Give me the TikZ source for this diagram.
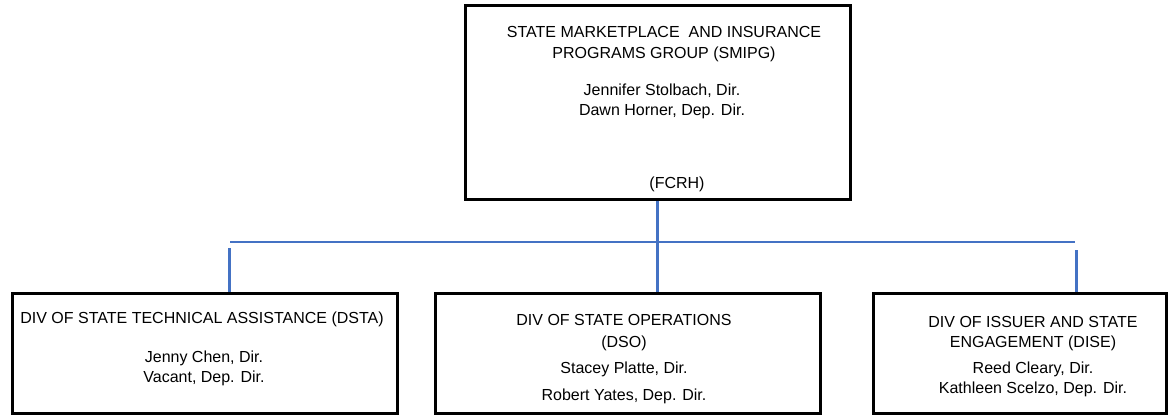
\documentclass[tikz,border=0pt]{standalone}
\usepackage{fontspec}
\setmainfont{Liberation Sans}
\definecolor{linkblue}{HTML}{4472C4}
\begin{document}
\begin{tikzpicture}[x=0.75pt,y=-0.75pt,
  orgbox/.style={draw=black,line width=2.25pt,rectangle,inner sep=0pt},
  txt/.style={anchor=north,inner sep=0pt,align=center,font=\fontsize{12}{15}\selectfont},
  link/.style={draw=linkblue,line width=2.25pt},
  hlink/.style={draw=linkblue,line width=1.6pt}]
\useasboundingbox (0,0) rectangle (1169,414);
% boxes
\node[orgbox,minimum width=288.75pt,minimum height=145.5pt] (smipg) at (657.5,102) {};
\node[orgbox,minimum width=288.75pt,minimum height=90pt] (dsta) at (204.5,353) {};
\node[orgbox,minimum width=288.75pt,minimum height=90pt] (dso) at (627.5,353) {};
\node[orgbox,minimum width=219.75pt,minimum height=90pt] (dise) at (1019.5,353) {};
% texts
\node[txt] (t1) at (664,26) {STATE MARKETPLACE\ \ AND INSURANCE\\[0.75pt]PROGRAMS GROUP (SMIPG)};
\node[txt] (n1) at (662,84) {Jennifer Stolbach, Dir.\\Dawn Horner, Dep. Dir.};
\node[txt] (f1) at (677,177) {(FCRH)};
\node[txt] (t2) at (202,312) {DIV OF STATE TECHNICAL ASSISTANCE (DSTA)};
\node[txt] (n2) at (204,351) {Jenny Chen, Dir.\\Vacant, Dep. Dir.};
\node[txt] (t3) at (624,314) {DIV OF STATE OPERATIONS\\[1.5pt](DSO)};
\node[txt] (n3) at (624,362) {Stacey Platte, Dir.\\[5.25pt]Robert Yates, Dep. Dir.};
\node[txt] (t4) at (1033,316) {DIV OF ISSUER AND STATE\\ENGAGEMENT (DISE)};
\node[txt] (n4) at (1033,362) {Reed Cleary, Dir.\\Kathleen Scelzo, Dep. Dir.};
% connectors
\coordinate (hl) at (230,242);
\coordinate (hr) at (1075,242);
\coordinate (dl) at (229,248);
\coordinate (dr) at (1076,250);
\draw[hlink] (hl) -- (hr);
\draw[link] (smipg.south) -- (smipg.south |- dso.north);
\draw[link] (dl) -- (dl |- dsta.north);
\draw[link] (dr) -- (dr |- dise.north);
\end{tikzpicture}
\end{document}
